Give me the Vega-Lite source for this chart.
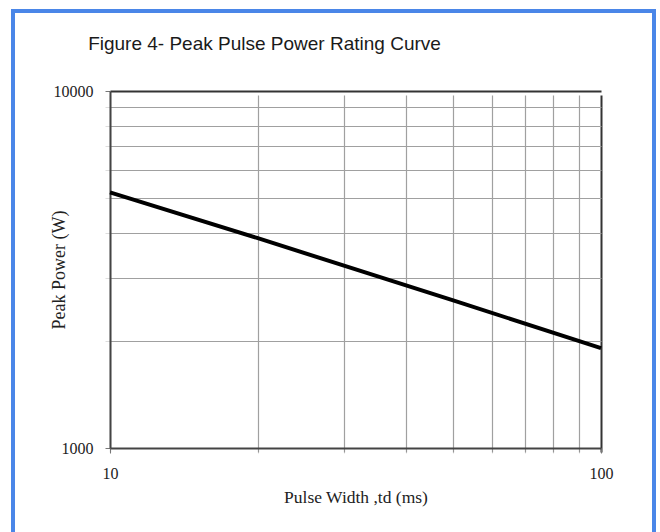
{
  "$schema": "https://vega.github.io/schema/vega-lite/v6.json",
  "autosize": {"type": "none"},
  "width": 641,
  "height": 521,
  "padding": {"left": 13, "top": 11, "right": 6, "bottom": 0},
  "background": "white",
  "config": {
    "view": {"stroke": "#4a86e8", "strokeWidth": 4, "strokeDash": [1162, 641, 521], "fill": "white"}
  },
  "title": {
    "text": "Figure 4- Peak Pulse Power Rating Curve",
    "font": "Liberation Sans",
    "fontSize": 19,
    "fontWeight": "normal",
    "color": "#1a1a1a",
    "anchor": "middle",
    "dx": -69,
    "offset": -58,
    "baseline": "alphabetic"
  },
  "data": {
    "values": [
      {"width": 10, "power": 5200},
      {"width": 20, "power": 3870},
      {"width": 50, "power": 2590},
      {"width": 100, "power": 1905}
    ]
  },
  "mark": {"type": "line", "color": "black", "strokeWidth": 4, "clip": false},
  "encoding": {
    "x": {
      "field": "width",
      "type": "quantitative",
      "scale": {"type": "log", "domain": [10, 100], "range": [97, 588], "nice": false},
      "axis": {
        "orient": "bottom",
        "offset": -84,
        "values": [10, 20, 30, 40, 50, 60, 70, 80, 90, 100],
        "labelExpr": "datum.value == 10 || datum.value == 100 ? format(datum.value, 'd') : ''",
        "labelFont": "Liberation Serif",
        "labelFontSize": 16,
        "labelColor": "#222",
        "labelPadding": 12,
        "labelFlush": false,
        "labelOverlap": false,
        "tickSize": 5,
        "tickColor": "#777",
        "tickOpacity": {"condition": {"test": "datum.value == 10 || datum.value == 100", "value": 1}, "value": 0.25},
        "domainColor": "#444",
        "domainWidth": 2,
        "grid": true,
        "gridColor": {"condition": {"test": "datum.value == 100", "value": "#333"}, "value": "#a0a0a0"},
        "gridWidth": {"condition": {"test": "datum.value == 100", "value": 2}, "value": 1.2},
        "gridOpacity": 1,
        "title": "Pulse Width ,td (ms)",
        "titleFont": "Liberation Serif",
        "titleFontSize": 17.5,
        "titleFontWeight": "normal",
        "titleColor": "#222",
        "titleY": 49,
        "titleBaseline": "middle"
      }
    },
    "y": {
      "field": "power",
      "type": "quantitative",
      "scale": {"type": "log", "domain": [1000, 10000], "range": [437, 80], "nice": false},
      "axis": {
        "orient": "left",
        "offset": -97,
        "values": [1000, 2000, 3000, 4000, 5000, 6000, 7000, 8000, 9000, 10000],
        "labelExpr": "datum.value == 1000 || datum.value == 10000 ? format(datum.value, 'd') : ''",
        "labelFont": "Liberation Serif",
        "labelFontSize": 16,
        "labelColor": "#222",
        "labelPadding": 12,
        "labelFlush": false,
        "labelOverlap": false,
        "tickSize": 5,
        "tickColor": "#777",
        "tickOpacity": {"condition": {"test": "datum.value == 1000 || datum.value == 10000", "value": 1}, "value": 0.25},
        "domainColor": "#444",
        "domainWidth": 2,
        "grid": true,
        "gridColor": {"condition": {"test": "datum.value == 10000", "value": "#333"}, "value": "#a0a0a0"},
        "gridWidth": {"condition": {"test": "datum.value == 10000", "value": 2}, "value": 1.2},
        "gridOpacity": 1,
        "title": "Peak Power (W)",
        "titleFont": "Liberation Serif",
        "titleFontSize": 18,
        "titleFontWeight": "normal",
        "titleColor": "#222",
        "titleX": -51,
        "titleY": 258.5,
        "titleBaseline": "middle"
      }
    }
  }
}
